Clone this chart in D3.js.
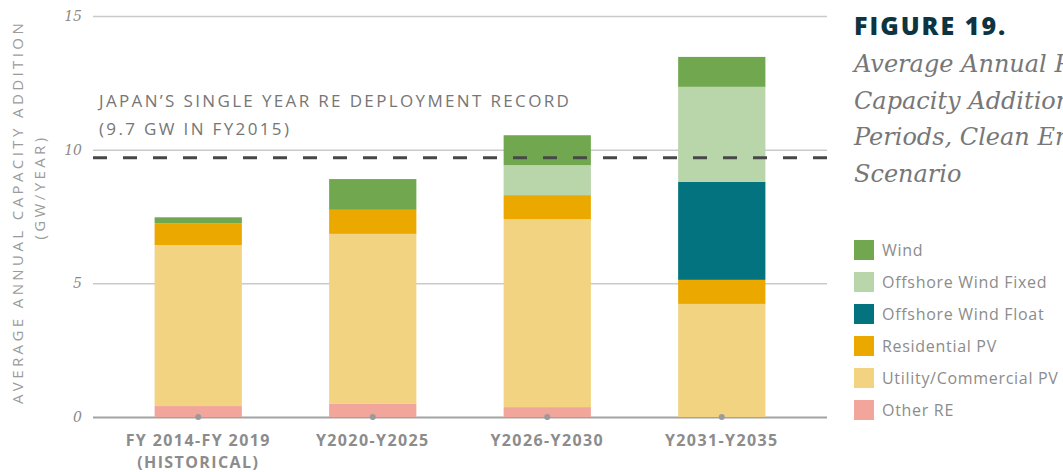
<!DOCTYPE html>
<html>
<head>
<meta charset="utf-8">
<script src="https://cdn.jsdelivr.net/npm/d3@7"></script>
<style>
  html, body { margin: 0; padding: 0; background: #fff; overflow: hidden; }
  svg { display: block; }
</style>
</head>
<body>
<svg id="chart" width="1063" height="472"></svg>
<script>
// ---- data ----
const categories = ["FY 2014-FY 2019", "Y2020-Y2025", "Y2026-Y2030", "Y2031-Y2035"];
const categorySubLabels = ["(HISTORICAL)", "", "", ""];
const seriesNames = ["Other RE", "Utility/Commercial PV", "Residential PV", "Offshore Wind Float", "Offshore Wind Fixed", "Wind"];
const otherRE        = [0.41, 0.49, 0.37, 0.00];
const utilityPV      = [6.02, 6.36, 7.03, 4.23];
const residentialPV  = [0.82, 0.90, 0.90, 0.90];
const offshoreFloat  = [0.00, 0.00, 0.00, 3.67];
const offshoreFixed  = [0.00, 0.00, 1.12, 3.55];
const wind           = [0.22, 1.15, 1.12, 1.12];
const yTicks = [0, 5, 10, 15];
const recordValue = 9.7;
const recordLabel = ["JAPAN\u2019S SINGLE YEAR RE DEPLOYMENT RECORD", "(9.7 GW IN FY2015)"];
const legendOrder = ["Wind", "Offshore Wind Fixed", "Offshore Wind Float", "Residential PV", "Utility/Commercial PV", "Other RE"];
const colors = {
  "Wind": "#71a84f",
  "Offshore Wind Fixed": "#b9d5aa",
  "Offshore Wind Float": "#03737f",
  "Residential PV": "#eba900",
  "Utility/Commercial PV": "#f2d382",
  "Other RE": "#f2a69b"
};

const seriesValues = {
  "Other RE": otherRE,
  "Utility/Commercial PV": utilityPV,
  "Residential PV": residentialPV,
  "Offshore Wind Float": offshoreFloat,
  "Offshore Wind Fixed": offshoreFixed,
  "Wind": wind
};
const table = categories.map((c, i) => {
  const row = { cat: c };
  seriesNames.forEach(s => row[s] = seriesValues[s][i]);
  return row;
});

// ---- layout ----
const svg = d3.select("#chart");
const plotLeft = 93, plotRight = 827, plotTop = 16, plotBottom = 417;

const x = d3.scaleBand().domain(categories).range([plotLeft, plotRight])
  .paddingInner(0.5).paddingOuter(0.353);
const y = d3.scaleLinear().domain([0, 15]).range([plotBottom, plotTop]);

const sansFont = "'Open Sans', 'DejaVu Sans', sans-serif";
const serifFont = "'DejaVu Serif', 'Liberation Serif', serif";

// gridlines
const yAxis = d3.axisLeft(y).tickValues(yTicks).tickSize(plotLeft - plotRight).tickFormat(d3.format("d")).tickPadding(11);
const gy = svg.append("g").attr("transform", `translate(${plotLeft},0)`).call(yAxis);
gy.select(".domain").remove();
gy.selectAll(".tick line")
  .attr("stroke", d => d === 0 ? "#a3a3a3" : "#c9c9c9")
  .attr("stroke-width", d => d === 0 ? 2 : 1.5);
gy.selectAll(".tick text")
  .attr("font-family", serifFont)
  .attr("font-style", "italic")
  .attr("font-size", 14)
  .attr("fill", "#8a8a8a");

// stacked bars
const stack = d3.stack().keys(seriesNames);
const stacked = stack(table);
svg.append("g").selectAll("g").data(stacked).join("g")
  .attr("fill", d => colors[d.key])
  .selectAll("rect").data(d => d).join("rect")
  .attr("x", d => x(d.data.cat))
  .attr("width", x.bandwidth())
  .attr("y", d => y(d[1]))
  .attr("height", d => Math.max(0, y(d[0]) - y(d[1])));

// baseline dots
svg.append("g").selectAll("circle").data(categories).join("circle")
  .attr("cx", d => x(d) + x.bandwidth() / 2)
  .attr("cy", y(0))
  .attr("r", 3)
  .attr("fill", "#9a9a9a");

// record dashed line
svg.append("line")
  .attr("x1", plotLeft).attr("x2", plotRight)
  .attr("y1", y(recordValue)).attr("y2", y(recordValue))
  .attr("stroke", "#474747").attr("stroke-width", 3)
  .attr("stroke-dasharray", "14,16");

svg.append("g").selectAll("text").data(recordLabel).join("text")
  .attr("x", 99)
  .attr("y", (d, i) => 107 + i * 28)
  .attr("font-family", sansFont)
  .attr("font-size", 17)
  .attr("font-weight", 500)
  .attr("letter-spacing", 2.35)
  .attr("fill", "#767676")
  .text(d => d);

// x labels
const xl = svg.append("g").selectAll("g").data(categories).join("g")
  .attr("transform", d => `translate(${x(d) + x.bandwidth() / 2},0)`);
xl.append("text")
  .attr("y", 446).attr("text-anchor", "middle")
  .attr("font-family", sansFont).attr("font-weight", 700).attr("font-size", 16)
  .attr("letter-spacing", 1.4)
  .attr("fill", "#8c8c8c")
  .text(d => d);
xl.append("text")
  .attr("y", 468).attr("text-anchor", "middle")
  .attr("font-family", sansFont).attr("font-weight", 700).attr("font-size", 16)
  .attr("letter-spacing", 1.4)
  .attr("fill", "#8c8c8c")
  .text((d, i) => categorySubLabels[i]);

// y axis title
const yt = svg.append("g").attr("transform", "rotate(-90)");
yt.append("text").attr("x", -212).attr("y", 23).attr("text-anchor", "middle")
  .attr("font-family", sansFont).attr("font-size", 15).attr("letter-spacing", 3.4)
  .attr("fill", "#9b9b9b").text("AVERAGE ANNUAL CAPACITY ADDITION");
yt.append("text").attr("x", -187).attr("y", 45).attr("text-anchor", "middle")
  .attr("font-family", sansFont).attr("font-size", 15).attr("letter-spacing", 3.4)
  .attr("fill", "#9b9b9b").text("(GW/YEAR)");

// title
svg.append("text").attr("x", 854).attr("y", 35)
  .attr("font-family", sansFont).attr("font-weight", 800).attr("font-size", 25)
  .attr("letter-spacing", 2)
  .attr("fill", "#0d3441").text("FIGURE 19.");
const subtitle = ["Average Annual RE", "Capacity Additions by", "Periods, Clean Energy", "Scenario"];
svg.append("g").selectAll("text").data(subtitle).join("text")
  .attr("x", 854).attr("y", (d, i) => 72 + i * 36.5)
  .attr("font-family", serifFont).attr("font-style", "italic").attr("font-size", 24)
  .attr("fill", "#777").text(d => d);

// legend
const lg = svg.append("g").selectAll("g").data(legendOrder).join("g")
  .attr("transform", (d, i) => `translate(854,${240 + i * 32})`);
lg.append("rect").attr("width", 20).attr("height", 20).attr("fill", d => colors[d]);
lg.append("text").attr("x", 28).attr("y", 16)
  .attr("font-family", sansFont).attr("font-size", 16).attr("letter-spacing", 0.7)
  .attr("fill", "#8c8c8c")
  .text(d => d);
</script>
</body>
</html>
